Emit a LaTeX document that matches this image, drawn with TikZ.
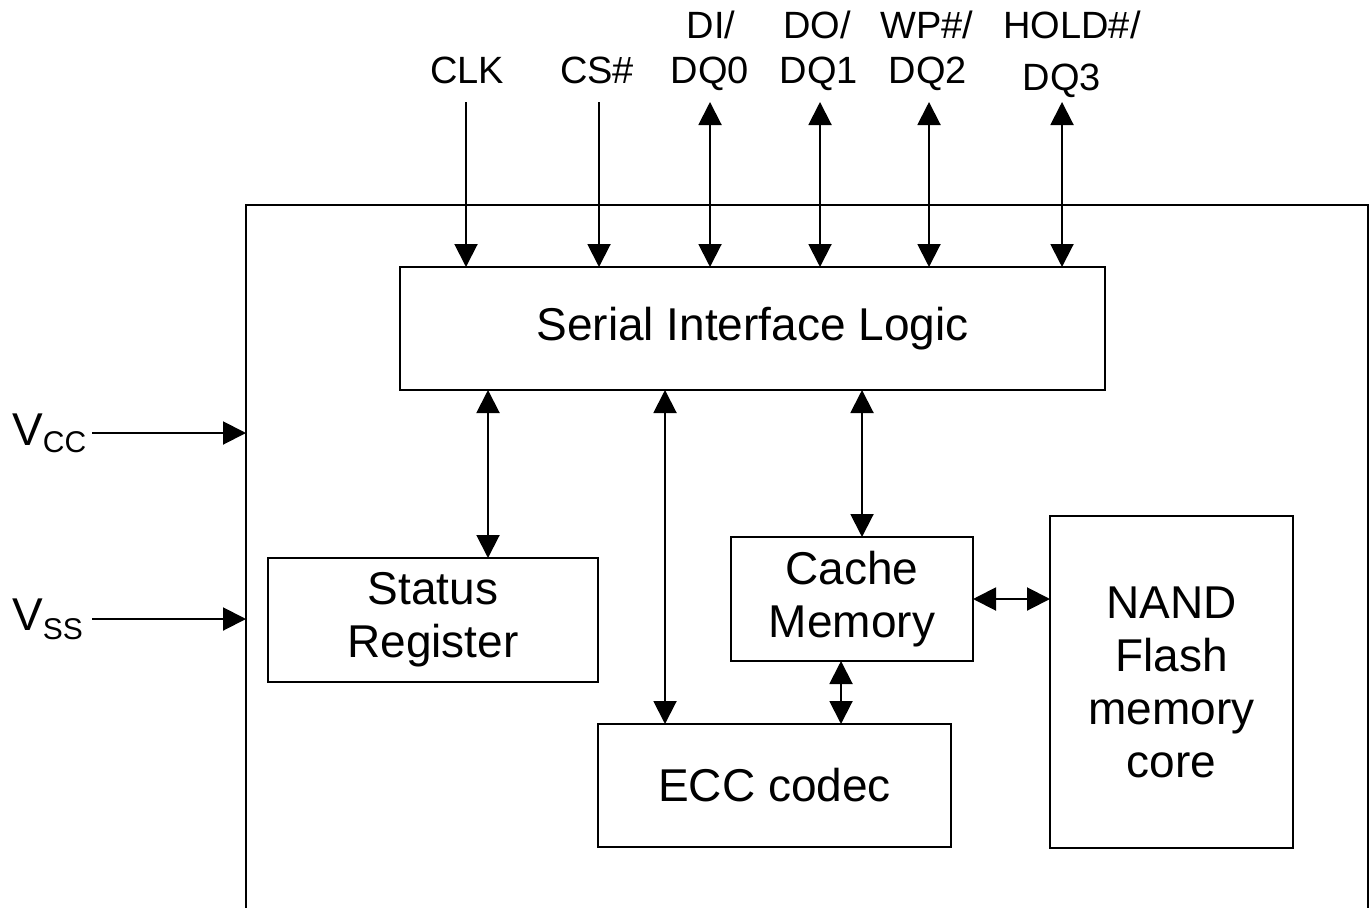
\documentclass[tikz,border=0pt]{standalone}
\usepackage{fontspec}
\setmainfont{Liberation Sans}
\usetikzlibrary{arrows.meta}
\begin{document}
\begin{tikzpicture}[x=1pt,y=-1pt,
  blk/.style={draw, line width=2pt, inner sep=0pt, outer sep=0pt, align=center,
    font=\fontsize{46}{53}\selectfont},
  pin/.style={font=\fontsize{38}{45}\selectfont, inner sep=0pt, anchor=base},
  wire/.style={line width=2pt},
  uni/.style={line width=2pt, -{Triangle[length=23pt,width=23pt]}},
  bi/.style={line width=2pt, {Triangle[length=23pt,width=23pt]}-{Triangle[length=23pt,width=23pt]}},
]
\useasboundingbox (0,0) rectangle (1372,907);

% chip outline (open at the bottom)
\draw[wire] (246,915) -- (246,205) -- (1368,205) -- (1368,915);
\coordinate (chipL) at (246,0);

% blocks
\node[blk, minimum width=705pt, minimum height=123pt] (sil) at (752.5,328.5) {\raisebox{-3pt}{Serial Interface Logic}};
\node[blk, minimum width=330pt, minimum height=124pt] (status) at (433,620) {Status\\Register};
\node[blk, minimum width=242pt, minimum height=124pt] (cache) at (852,599) {Cache\\Memory};
\node[blk, minimum width=353pt, minimum height=123pt] (ecc) at (774.5,785.5) {ECC codec};
\node[blk, minimum width=243pt, minimum height=332pt] (nand) at (1171.5,682) {NAND\\Flash\\memory\\core};

% pin labels
\node[pin] (clk) at (467,83) {CLK};
\node[pin] (cs) at (597,83) {CS\#};
\node[pin] (di) at (711,38) {DI/};
\node[pin] (dq0) at (710,83) {DQ0};
\node[pin] (do) at (817,38) {DO/};
\node[pin] (dq1) at (819,83) {DQ1};
\node[pin] (wp) at (927,38) {WP\#/};
\node[pin] (dq2) at (928,83) {DQ2};
\node[pin] (hold) at (1072,38) {HOLD\#/};
\node[pin] (dq3) at (1062,90) {DQ3};

% pin wires
\coordinate (pclk) at (466,102);
\coordinate (pcs) at (599,102);
\coordinate (pdq0) at (710,102);
\coordinate (pdq1) at (820,102);
\coordinate (pdq2) at (929,102);
\coordinate (pdq3) at (1062,102);
\draw[uni] (pclk) -- (pclk |- sil.north);
\draw[uni] (pcs) -- (pcs |- sil.north);
\draw[bi] (pdq0) -- (pdq0 |- sil.north);
\draw[bi] (pdq1) -- (pdq1 |- sil.north);
\draw[bi] (pdq2) -- (pdq2 |- sil.north);
\draw[bi] (pdq3) -- (pdq3 |- sil.north);

% supply pins
\node[anchor=base west, inner sep=0pt] (vcc) at (12,445)
  {\fontsize{46}{46}\selectfont V\raisebox{-7pt}{\fontsize{30}{30}\selectfont CC}};
\node[anchor=base west, inner sep=0pt] (vss) at (12,630)
  {\fontsize{46}{46}\selectfont V\raisebox{-9pt}{\fontsize{30}{30}\selectfont SS}};
\coordinate (vcca) at (92,433);
\coordinate (vssa) at (92,619);
\draw[uni] (vcca) -- (vcca -| chipL);
\draw[uni] (vssa) -- (vssa -| chipL);

% internal connections
\coordinate (x1) at (488,0);
\coordinate (x2) at (665,0);
\coordinate (x3) at (862,0);
\coordinate (x4) at (841,0);
\draw[bi] (sil.south -| x1) -- (status.north -| x1);
\draw[bi] (sil.south -| x2) -- (ecc.north -| x2);
\draw[bi] (sil.south -| x3) -- (cache.north -| x3);
\draw[bi] (cache.south -| x4) -- (ecc.north -| x4);
\draw[bi] (cache.east) -- (cache.east -| nand.west);
\end{tikzpicture}
\end{document}
